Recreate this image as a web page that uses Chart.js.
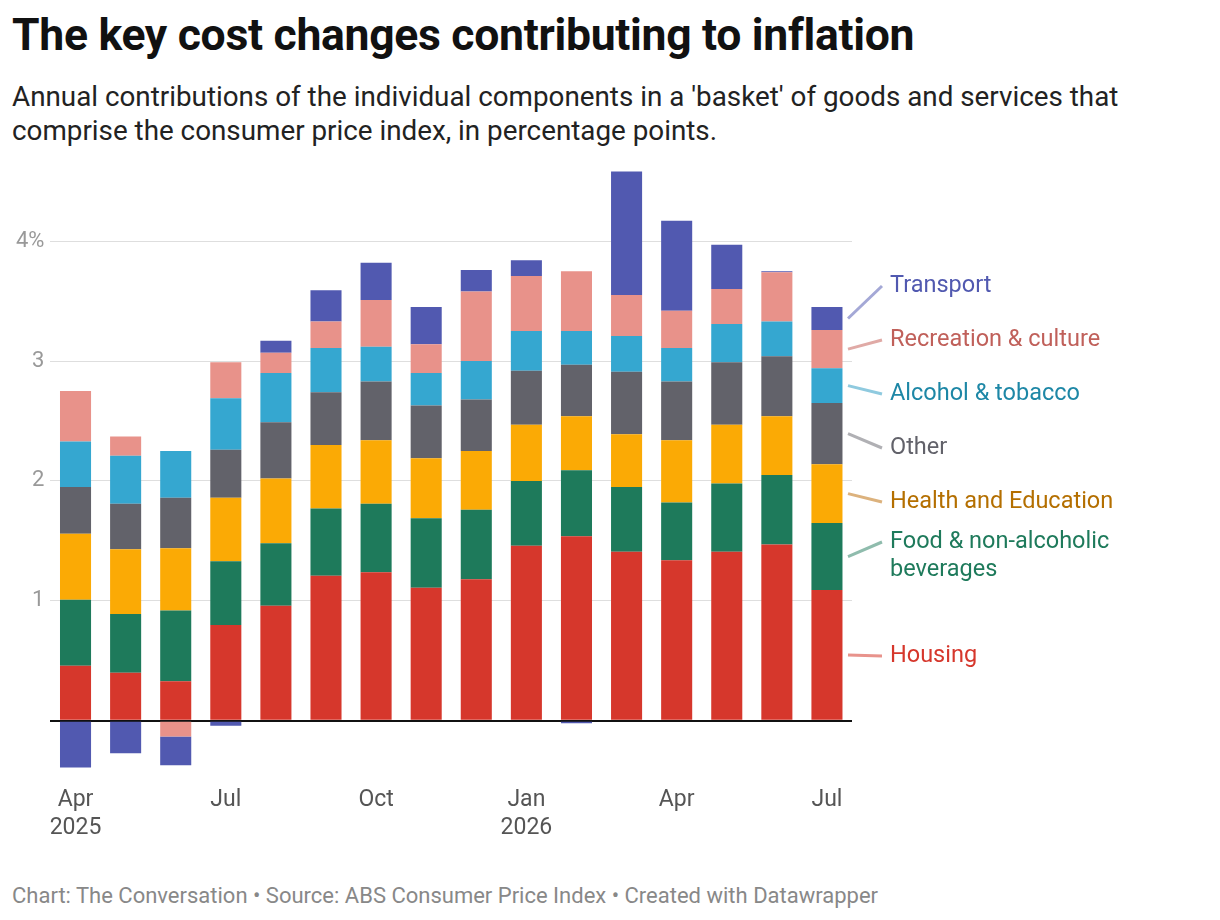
<!DOCTYPE html>
<html>
<head>
<meta charset="utf-8">
<script src="https://cdn.jsdelivr.net/npm/chart.js@4"></script>
<style>
  body { margin: 0; background: #fff; font-family: Roboto, sans-serif; width: 1220px; height: 920px; position: relative; overflow: hidden; }
  h1 { position: absolute; left: 12px; top: 9px; margin: 0; font-size: 44.5px; font-weight: 700; color: #111; letter-spacing: -0.3px; }
  .sub { position: absolute; left: 12px; top: 80px; font-size: 27.8px; line-height: 34px; color: #222; width: 1180px; }
  .foot { position: absolute; left: 12px; top: 883px; font-size: 22px; color: #888; }
  #wrap { position: absolute; left: 0; top: 150px; width: 1220px; height: 702px; }
</style>
</head>
<body>
<h1>The key cost changes contributing to inflation</h1>
<div class="sub">Annual contributions of the individual components in a 'basket' of goods and services that<br>comprise the consumer price index, in percentage points.</div>
<div id="wrap"><canvas id="c"></canvas></div>
<div class="foot">Chart: The Conversation • Source: ABS Consumer Price Index • Created with Datawrapper</div>
<script>
// Months Apr 2025 – Jul 2026
const months = [['Apr', '2025'], '', '', 'Jul', '', '', 'Oct', '', '', ['Jan', '2026'], '', '', 'Apr', '', '', 'Jul'];

const housing    = [0.46, 0.40, 0.33, 0.80, 0.96, 1.21, 1.24, 1.11, 1.18, 1.46, 1.54, 1.41, 1.34, 1.41, 1.47, 1.09];
const food       = [0.55, 0.49, 0.59, 0.53, 0.52, 0.56, 0.57, 0.58, 0.58, 0.54, 0.55, 0.54, 0.48, 0.57, 0.58, 0.56];
const healthEdu  = [0.55, 0.54, 0.52, 0.53, 0.54, 0.53, 0.53, 0.50, 0.49, 0.47, 0.45, 0.44, 0.52, 0.49, 0.49, 0.49];
const other      = [0.39, 0.38, 0.42, 0.40, 0.47, 0.44, 0.49, 0.44, 0.43, 0.45, 0.43, 0.52, 0.49, 0.52, 0.50, 0.51];
const alcohol    = [0.38, 0.40, 0.39, 0.43, 0.41, 0.37, 0.29, 0.27, 0.32, 0.33, 0.28, 0.30, 0.28, 0.32, 0.29, 0.29];
const recreation = [0.42, 0.16, -0.13, 0.30, 0.17, 0.22, 0.39, 0.24, 0.58, 0.46, 0.50, 0.34, 0.31, 0.29, 0.41, 0.32];
const transport  = [-0.39, -0.27, -0.24, -0.04, 0.10, 0.26, 0.31, 0.31, 0.18, 0.13, -0.02, 1.03, 0.75, 0.37, 0.01, 0.19];

const SERIES = [
  { label: 'Housing', data: housing, color: '#d6372c', text: '#d6372c', line: '#e8938c', y: 656, lines: ['Housing'] },
  { label: 'Food & non-alcoholic beverages', data: food, color: '#1e7a5b', text: '#1e7a5b', line: '#8fbcad', y: 542, lines: ['Food & non-alcoholic', 'beverages'] },
  { label: 'Health and Education', data: healthEdu, color: '#fbaa05', text: '#b46f00', line: '#dcb27d', y: 502, lines: ['Health and Education'] },
  { label: 'Other', data: other, color: '#62626a', text: '#62626a', line: '#b0b0b4', y: 448, lines: ['Other'] },
  { label: 'Alcohol & tobacco', data: alcohol, color: '#35a7d0', text: '#1d87a6', line: '#8fcadf', y: 394, lines: ['Alcohol & tobacco'] },
  { label: 'Recreation & culture', data: recreation, color: '#e8928a', text: '#c0605a', line: '#e0aaa6', y: 340, lines: ['Recreation & culture'] },
  { label: 'Transport', data: transport, color: '#5159b0', text: '#5159b0', line: '#a4a8d6', y: 286, lines: ['Transport'] }
];

const labelPlugin = {
  id: 'rightLabels',
  afterDraw(chart) {
    const ctx = chart.ctx;
    const x0 = chart.chartArea.right - 4;
    const top = chart.canvas.getBoundingClientRect().top;
    ctx.save();
    ctx.font = '23.5px Roboto';
    ctx.textBaseline = 'middle';
    SERIES.forEach((s, i) => {
      const meta = chart.getDatasetMeta(i);
      const bar = meta.data[meta.data.length - 1];
      const ym = (bar.y + bar.base) / 2;
      const ly = s.y - top;
      ctx.strokeStyle = s.line;
      ctx.lineWidth = 3;
      ctx.beginPath();
      ctx.moveTo(x0, ym);
      ctx.lineTo(x0 + 34, ly);
      ctx.stroke();
      ctx.fillStyle = s.text;
      s.lines.forEach((t, k) => ctx.fillText(t, x0 + 42, ly + k * 28));
    });
    ctx.restore();
  }
};

new Chart(document.getElementById('c'), {
  type: 'bar',
  data: {
    labels: months,
    datasets: SERIES.map(s => ({
      label: s.label, data: s.data, backgroundColor: s.color,
      categoryPercentage: 0.62, barPercentage: 1, borderWidth: 0
    }))
  },
  options: {
    responsive: true,
    maintainAspectRatio: false,
    animation: false,
    layout: { padding: { left: 10, right: 368, top: 16, bottom: 0 } },
    plugins: { legend: { display: false }, tooltip: { enabled: false } },
    scales: {
      x: {
        stacked: true,
        grid: { display: false },
        border: { display: false },
        ticks: { autoSkip: false, maxRotation: 0, color: '#555', font: { family: 'Roboto', size: 23 }, padding: 10 }
      },
      y: {
        stacked: true,
        min: -0.4, max: 4.6,
        border: { display: false },
        grid: {
          color: ctx => ctx.tick.value === 0 ? '#111' : '#dedede',
          lineWidth: ctx => ctx.tick.value === 0 ? 2 : 1,
          drawTicks: false
        },
        afterBuildTicks: axis => { axis.ticks = [0, 1, 2, 3, 4].map(v => ({ value: v })); },
        ticks: {
          color: '#999', font: { family: 'Roboto', size: 22 }, padding: 6,
          callback: v => v === 0 ? '' : (v === 4 ? '4%' : v)
        }
      }
    }
  },
  plugins: [labelPlugin]
});
</script>
</body>
</html>
